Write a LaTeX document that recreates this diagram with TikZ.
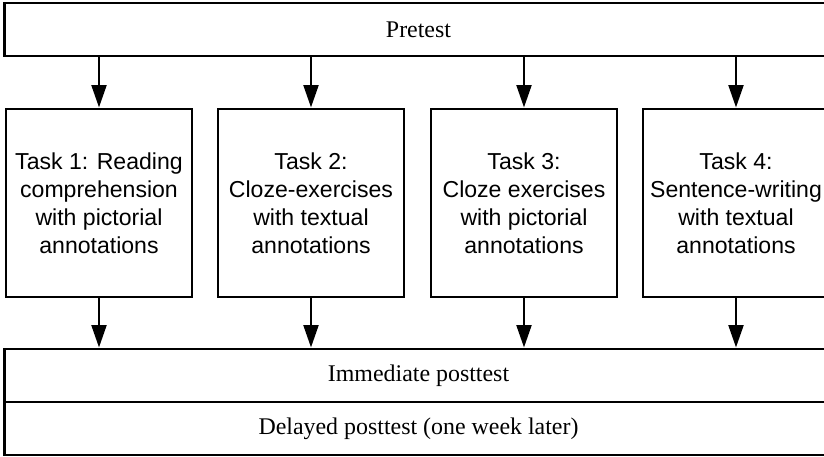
\documentclass[tikz,border=0pt]{standalone}
\usepackage{fontspec}
\setmainfont{Liberation Serif}
\setsansfont{Liberation Sans}
\usetikzlibrary{arrows.meta}
\begin{document}
\begin{tikzpicture}[
    x=0.025cm, y=-0.025cm,
    wide/.style={rectangle, draw, line width=2pt, minimum width=20.675cm, minimum height=1.325cm, inner sep=0pt, font=\fontsize{17}{20}\selectfont},
    task/.style={rectangle, draw, line width=2pt, minimum width=4.65cm, minimum height=4.7cm, inner sep=0pt, align=center, font=\sffamily\fontsize{16.4}{19.9}\selectfont},
    arrow/.style={-{Triangle[length=16pt, width=10.5pt]}, line width=2pt}
]
\useasboundingbox (0,0) rectangle (824,457);
% Pretest
\node[wide] (pre) at (418.5, 29.5) {Pretest};

% Tasks
\node[task] (t1) at (99, 203) {Task 1: Reading\\comprehension\\with pictorial\\annotations};
\node[task] (t2) at (311, 203) {Task 2:\\Cloze-exercises\\with textual\\annotations};
\node[task] (t3) at (524, 203) {Task 3:\\Cloze exercises\\with pictorial\\annotations};
\node[task] (t4) at (736, 203) {Task 4:\\Sentence-writing\\with textual\\annotations};

% Posttests
\node[wide] (post1) at (418.5, 375.5) {Immediate posttest};
\node[wide] (post2) at (418.5, 428.5) {Delayed posttest (one week later)};

\foreach \t in {t1,t2,t3,t4} {
  \draw[arrow] (pre.south -| \t.north) -- (\t.north);
  \draw[arrow] (\t.south) -- (post1.north -| \t.south);
}
\end{tikzpicture}
\end{document}
